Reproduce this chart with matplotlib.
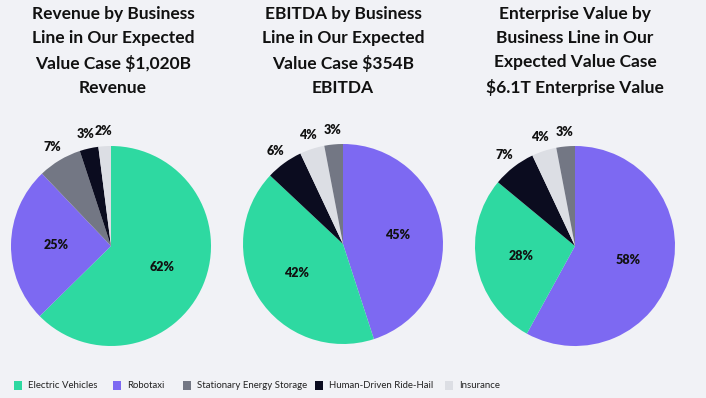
import numpy as np
import matplotlib
matplotlib.use("Agg")
import matplotlib.pyplot as plt
from matplotlib.patches import Rectangle

plt.rcParams['font.family'] = ['Lato', 'DejaVu Sans']

categories = ["Electric Vehicles", "Robotaxi", "Stationary Energy Storage",
              "Human-Driven Ride-Hail", "Insurance"]
colors = {"Electric Vehicles": "#2ed9a1", "Robotaxi": "#7d69f2",
          "Stationary Energy Storage": "#737784", "Human-Driven Ride-Hail": "#0b0c1f",
          "Insurance": "#dcdee4"}

titles = ["Revenue by Business\nLine in Our Expected\nValue Case $1,020B\nRevenue",
          "EBITDA by Business\nLine in Our Expected\nValue Case $354B\nEBITDA",
          "Enterprise Value by\nBusiness Line in Our\nExpected Value Case\n$6.1T Enterprise Value"]

# slice order (clockwise from 12 o'clock) and percentages for each pie
rev_order = ["Electric Vehicles", "Robotaxi", "Stationary Energy Storage",
             "Human-Driven Ride-Hail", "Insurance"]
rev_vals = [62, 25, 7, 3, 2]

ebitda_order = ["Robotaxi", "Electric Vehicles", "Human-Driven Ride-Hail",
                "Insurance", "Stationary Energy Storage"]
ebitda_vals = [45, 42, 6, 4, 3]

ev_order = ["Robotaxi", "Electric Vehicles", "Human-Driven Ride-Hail",
            "Insurance", "Stationary Energy Storage"]
ev_vals = [58, 28, 7, 4, 3]

pies = [(rev_order, rev_vals), (ebitda_order, ebitda_vals), (ev_order, ev_vals)]

W, H = 706, 398
bg = "#f1f2f6"
fig = plt.figure(figsize=(W / 100, H / 100), dpi=100)
fig.patch.set_facecolor(bg)

centers = [(111, 246), (343, 244), (575, 246)]
title_x = [113, 343, 575]

for i, (order, vals) in enumerate(pies):
    cx, cy = centers[i]
    ax = fig.add_axes([(cx - 130) / W, 1 - (cy + 130) / H, 260 / W, 260 / H])
    ax.set_facecolor(bg)
    wedges, _ = ax.pie(vals, colors=[colors[c] for c in order], startangle=90,
                       counterclock=False, radius=1.0,
                       wedgeprops=dict(linewidth=0))
    for w, v in zip(wedges, vals):
        ang = np.deg2rad((w.theta1 + w.theta2) / 2)
        d = 0.55 if v >= 10 else 1.15
        ax.text(d * np.cos(ang), d * np.sin(ang), f"{v}%", ha="center", va="center",
                fontsize=9, fontweight="heavy", color="#111111")
    ax.set_xlim(-1.3, 1.3)
    ax.set_ylim(-1.3, 1.3)
    ax.set_aspect("equal")
    ax.axis("off")
    fig.text(title_x[i] / W, 1 - 6 / H, titles[i], ha="center", va="top",
             fontsize=12.5, fontweight="bold", color="#111111", linespacing=1.63)

# legend row along the bottom
leg_x = [14, 113, 183, 315, 445]
leg_y = 385
for x, c in zip(leg_x, categories):
    fig.patches.append(Rectangle((x / W, 1 - (leg_y + 4.5) / H), 8 / W, 9 / H,
                                 transform=fig.transFigure, facecolor=colors[c],
                                 edgecolor="none"))
    fig.text((x + 14) / W, 1 - leg_y / H, c, ha="left", va="center",
             fontsize=6.9, color="#222222")

fig.savefig("out.png", dpi=100, facecolor=bg)
